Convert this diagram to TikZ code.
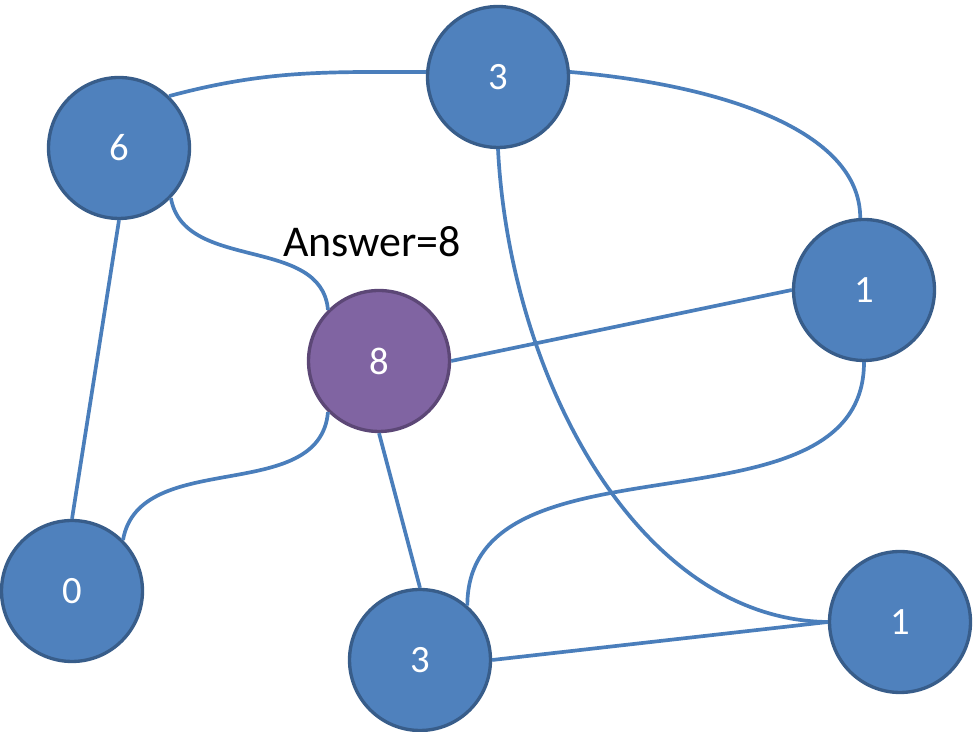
\documentclass[tikz,border=0pt]{standalone}
\usepackage{fontspec}
\setmainfont{Carlito}
\definecolor{nodeblue}{HTML}{4F81BD}
\definecolor{nodeborder}{HTML}{385D8A}
\definecolor{nodepurple}{HTML}{8064A2}
\definecolor{purpleborder}{HTML}{5C4776}
\definecolor{edgeblue}{HTML}{4A7EBB}
\tikzset{
    vertex/.style={circle, draw=nodeborder, fill=nodeblue, line width=1.9pt,
        minimum size=2.82cm, inner sep=0pt, text=white, font=\fontsize{22}{26}\selectfont},
    answer/.style={vertex, draw=purpleborder, fill=nodepurple},
    edge/.style={draw=edgeblue, line width=2.1pt}
}
\begin{document}
\begin{tikzpicture}[x=0.02cm, y=0.02cm]
    \useasboundingbox (0,0) rectangle (973,732);
    % Vertices of the graph
    \foreach \name/\x/\y/\val in {n6/119/584/6, t3/498/655/3, r1/864/442/1, n0/72/141/0, b3/420/72/3, br1/900/110/1} {
        \node[vertex] (\name) at (\x,\y) {\val};
    }
    \node[answer] (n8) at (379,371) {8};
    \node[anchor=base, font=\fontsize{25}{30}\selectfont] (ans) at (372,475) {Answer=8};
    % Edges
    \draw[edge] (n6.46) to[out=15, in=180] (t3.176);
    \draw[edge] (t3.4) .. controls +(150,-13) and +(0,88) .. (r1.93);
    \draw[edge] (n6.-44) to[out=-80, in=95] (n8.135);
    \draw[edge] (n6.south) -- (n0.north);
    \draw[edge] (n8.east) -- (r1.west);
    \draw[edge] (n8.225) to[out=-95, in=80] (n0.45);
    \draw[edge] (n8.south) -- (b3.north);
    \draw[edge] (t3.south) .. controls +(12,-231) and +(-188,2) .. (br1.west);
    \draw[edge] (r1.south) to[out=-90, in=90] (b3.49);
    \draw[edge] (b3.east) -- (br1.west);
\end{tikzpicture}
\end{document}
